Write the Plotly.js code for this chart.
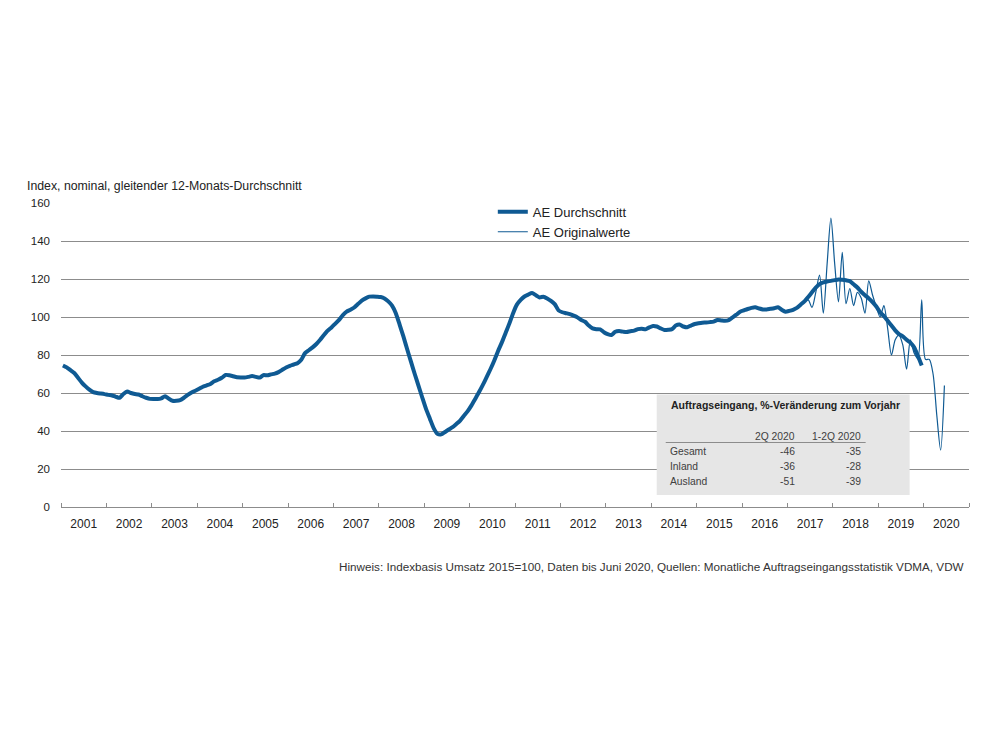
<!DOCTYPE html>
<html>
<head>
<meta charset="utf-8">
<script src="https://cdn.plot.ly/plotly-3.0.1.min.js"></script>
<style>
  html, body { margin: 0; padding: 0; background: #ffffff; }
  #chart { width: 1000px; height: 750px; }
</style>
</head>
<body>
<div id="chart"></div>
<script>
// ---------- DATA ----------
const yearLabels = ['2001','2002','2003','2004','2005','2006','2007','2008','2009','2010',
                    '2011','2012','2013','2014','2015','2016','2017','2018','2019','2020'];
const yTicks = [0, 20, 40, 60, 80, 100, 120, 140, 160];

// AE Durchschnitt (gleitender 12-Monats-Durchschnitt), monthly from Jan 2001
const avgStartYear = 2001;
const avgValues = [
  74.5, 73.5, 72, 70.5, 68, 65.5, 63.5, 61.8, 60.5, 60, 59.7, 59.4,          // 2001
  59, 58.7, 58, 57.5, 59.5, 60.8, 60, 59.5, 59.2, 58.3, 57.5, 56.9,          // 2002
  56.8, 56.8, 57.2, 58.3, 57, 55.9, 55.9, 56.3, 57.5, 59, 60.3, 61.2,        // 2003
  62.2, 63.3, 64, 64.8, 66.2, 67, 68, 69.5, 69.3, 68.8, 68.3, 68.2,          // 2004
  68.2, 68.5, 68.9, 68.5, 68.1, 69.4, 69.3, 69.8, 70.2, 71, 72.2, 73.4,      // 2005
  74.3, 75, 75.7, 77.5, 81, 82.5, 84, 85.8, 88, 90.5, 92.8, 94.5,            // 2006
  96.5, 98.5, 101, 102.8, 103.8, 105, 106.8, 108.6, 109.8, 110.7, 110.8, 110.7, // 2007
  110.5, 109.8, 108.2, 106, 102, 96, 89.8, 83, 76.5, 70, 63.8, 57.5,         // 2008
  51.5, 46.5, 41.5, 38.5, 38.2, 39.5, 40.8, 42, 43.7, 45.5, 48, 50.5,        // 2009
  53.5, 57, 60.5, 64.3, 68.3, 72.5, 77, 82, 86.5, 91.5, 96.5, 102,           // 2010
  106.5, 109, 110.8, 111.8, 112.6, 111.5, 110.3, 110.7, 109.8, 108.5, 106.8, 103.5, // 2011
  102.5, 102, 101.5, 100.7, 99.8, 98.4, 97.5, 95.5, 94, 93.6, 93.5, 92,      // 2012
  91, 90.5, 92.2, 92.6, 92.3, 92.1, 92.5, 92.8, 93.6, 93.8, 93.5, 94.5,      // 2013
  95.3, 95, 94, 93.2, 93.3, 93.6, 95.5, 96, 95, 94.6, 95.5, 96.3,            // 2014
  96.7, 97, 97.1, 97.3, 97.6, 98.4, 98.2, 98, 98.4, 99.8, 101.2, 102.8,      // 2015
  103.5, 104.2, 104.8, 105.1, 104.5, 104, 104, 104.3, 104.6, 105.1, 103.8, 102.8, // 2016
  103.2, 103.8, 104.8, 106.5, 108.2, 110.5, 113, 115.5, 117.3, 118.2, 118.7, 119, // 2017
  119.4, 119.8, 119.6, 119.3, 118.9, 117.2, 115.5, 113.3, 111.5, 109.8, 107.8, 105.5, // 2018
  102.5, 100.5, 98, 95.5, 93, 91, 89.8, 88, 86.5, 84, 79.5, 74.5             // 2019
];

// AE Originalwerte, monthly from Jan 2017 to Jun 2020
const origStartYear = 2017;
const origValues = [
  103.2, 103.8, 104.8, 106.5, 108.2, 109, 105, 113, 122, 102, 128, 152,     // 2017
  128, 108, 134, 107, 115, 106, 113, 110, 102, 119, 111.6, 105.4,           // 2018
  100, 106, 94, 80, 88, 90.5, 85.3, 72.5, 88, 81, 78, 109,                  // 2019
  77.7, 77.7, 70, 48, 30, 64                                                // 2020
];

// Inset table
const tableTitle = 'Auftragseingang, %-Veränderung zum Vorjahr';
const tableHeaders = ['2Q 2020', '1-2Q 2020'];
const tableRows = ['Gesamt', 'Inland', 'Ausland'];
const tableQ2 = [-46, -36, -51];
const tableH1 = [-35, -28, -39];

const yAxisLabel = 'Index, nominal, gleitender 12-Monats-Durchschnitt';
const footnote = 'Hinweis: Indexbasis Umsatz 2015=100, Daten bis Juni 2020, Quellen: Monatliche Auftragseingangsstatistik VDMA, VDW';

// ---------- BUILD ----------
function monthX(startYear, n) {
  const xs = [];
  for (let i = 0; i < n; i++) xs.push(startYear + (i + 0.5) / 12);
  return xs;
}
const firstYear = parseInt(yearLabels[0], 10);
const lastYear = parseInt(yearLabels[yearLabels.length - 1], 10);
const yearCenters = yearLabels.map(y => parseInt(y, 10) + 0.5);

const BLUE = '#0f5a93';
const GRID = '#8c8c8c';
const FONT = 'Liberation Sans, Arial, sans-serif';

const traces = [
  {
    x: monthX(origStartYear, origValues.length),
    y: origValues,
    type: 'scatter', mode: 'lines',
    name: 'AE Originalwerte',
    line: { color: BLUE, width: 1.2, shape: 'spline', smoothing: 0.8 },
    legendrank: 2
  },
  {
    x: monthX(avgStartYear, avgValues.length),
    y: avgValues,
    type: 'scatter', mode: 'lines',
    name: 'AE Durchschnitt',
    line: { color: BLUE, width: 4, shape: 'spline', smoothing: 0.6 },
    legendrank: 1
  }
];

// plot area geometry (px)
const L = 61, R = 969.4, T = 203, B = 507;
const W = R - L, H = B - T;
const px = x => (x - L) / W;
const py = y => (B - y) / H;

const shapes = [
  { type: 'rect', xref: 'paper', yref: 'paper',
    x0: px(657), x1: px(910), y0: py(495), y1: py(394.5),
    fillcolor: '#e6e6e6', line: { width: 0 }, layer: 'above' },
  { type: 'line', xref: 'paper', yref: 'paper',
    x0: px(666), x1: px(866), y0: py(442.5), y1: py(442.5),
    line: { color: '#8c8c8c', width: 1 }, layer: 'above' }
];

const tFont = { family: FONT, size: 10.3, color: '#404040' };
const annotations = [
  { xref: 'paper', yref: 'paper', x: px(25), y: py(186), xanchor: 'left', yanchor: 'middle',
    text: yAxisLabel, showarrow: false, font: { family: FONT, size: 12.3, color: '#222' } },
  { xref: 'paper', yref: 'paper', x: px(966), y: py(566), xanchor: 'right', yanchor: 'middle',
    text: footnote, showarrow: false, font: { family: FONT, size: 11.7, color: '#333' } },
  { xref: 'paper', yref: 'paper', x: px(669), y: py(405), xanchor: 'left', yanchor: 'middle',
    text: '<b>' + tableTitle + '</b>', showarrow: false, font: { family: FONT, size: 10.5, color: '#222' } }
];
const colRight = [797, 863];
tableHeaders.forEach((h, j) => {
  annotations.push({ xref: 'paper', yref: 'paper', x: px(colRight[j]), y: py(436),
    xanchor: 'right', yanchor: 'middle', text: h, showarrow: false, font: tFont });
});
const rowY = [451.5, 466.5, 481];
tableRows.forEach((r, i) => {
  annotations.push({ xref: 'paper', yref: 'paper', x: px(668), y: py(rowY[i]),
    xanchor: 'left', yanchor: 'middle', text: r, showarrow: false, font: tFont });
  annotations.push({ xref: 'paper', yref: 'paper', x: px(colRight[0]), y: py(rowY[i]),
    xanchor: 'right', yanchor: 'middle', text: String(tableQ2[i]), showarrow: false, font: tFont });
  annotations.push({ xref: 'paper', yref: 'paper', x: px(colRight[1]), y: py(rowY[i]),
    xanchor: 'right', yanchor: 'middle', text: String(tableH1[i]), showarrow: false, font: tFont });
});

const layout = {
  width: 1000, height: 750,
  paper_bgcolor: '#ffffff', plot_bgcolor: '#ffffff',
  margin: { l: L, r: 1000 - R, t: T, b: 750 - B, pad: 0 },
  font: { family: FONT, color: '#222' },
  showlegend: true,
  legend: {
    x: px(493), y: 1.02, xanchor: 'left', yanchor: 'top',
    bgcolor: 'rgba(255,255,255,0)', borderwidth: 0,
    font: { family: FONT, size: 13, color: '#222' },
    tracegroupgap: 0
  },
  xaxis: {
    range: [firstYear, lastYear + 1],
    tickmode: 'array', tickvals: yearCenters, ticktext: yearLabels,
    ticks: '', showgrid: false, zeroline: false,
    showline: true, linecolor: GRID, linewidth: 1,
    tickfont: { family: FONT, size: 12, color: '#222' },
    ticklabelstandoff: 6,
    minor: { tickmode: 'linear', tick0: firstYear, dtick: 1, ticks: 'inside',
             ticklen: 4, tickcolor: GRID, tickwidth: 1, showgrid: false },
    fixedrange: true
  },
  yaxis: {
    range: [0, 160],
    tickmode: 'array', tickvals: yTicks,
    ticks: '', showgrid: true, gridcolor: GRID, gridwidth: 1,
    zeroline: false, showline: false,
    tickfont: { family: FONT, size: 11.5, color: '#222' },
    ticklabelstandoff: 10,
    fixedrange: true
  },
  shapes: shapes,
  annotations: annotations,
  hovermode: false
};

Plotly.newPlot('chart', traces, layout, { displayModeBar: false, staticPlot: true });
</script>
</body>
</html>
